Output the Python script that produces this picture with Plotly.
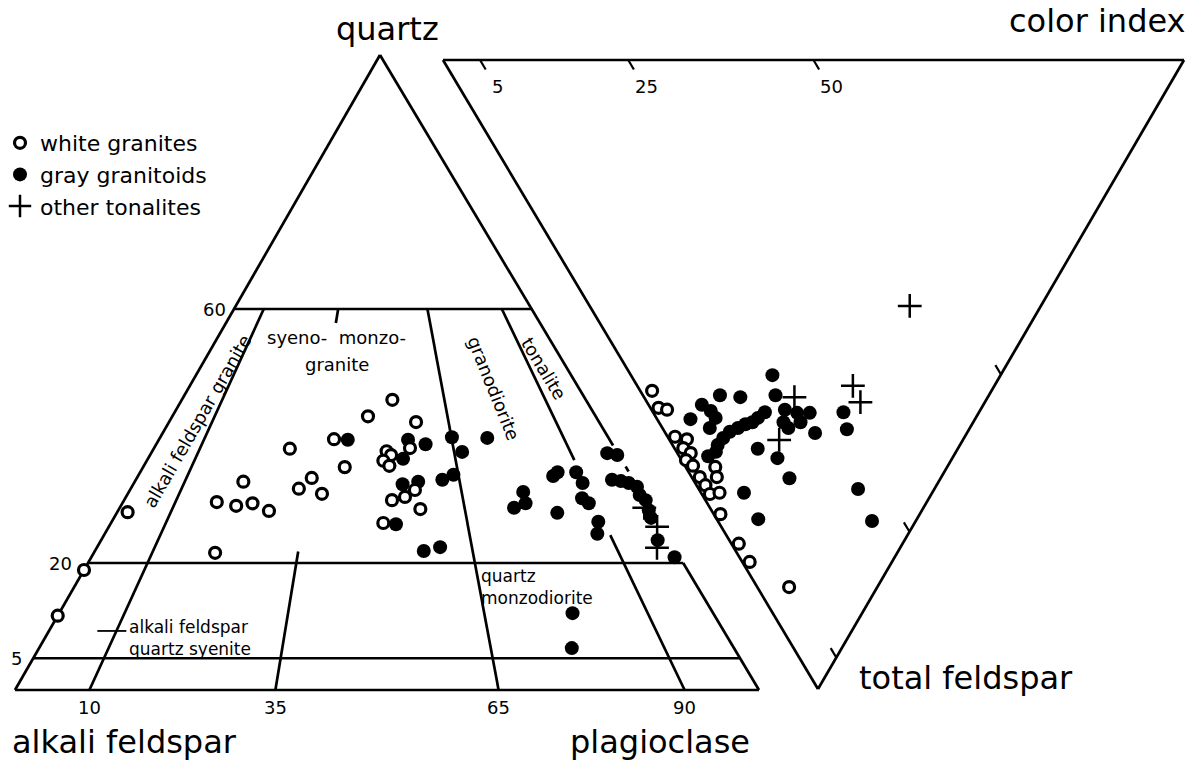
import numpy as np
import plotly.graph_objects as go

# ---------------------------------------------------------------
# Modal compositions, QAP diagram: quartz / alkali feldspar / plagioclase (%)
# ---------------------------------------------------------------
white_Q = [28.0, 18.9, 11.7, 29.6, 29.0, 29.4, 28.2, 32.8, 21.6, 38.0, 31.7, 33.4, 30.9, 39.5,
           35.1, 43.1, 45.7, 42.2, 37.6, 37.0, 36.1, 35.3, 38.1, 29.9, 30.4, 31.5, 28.5, 26.3]
white_A = [70.6, 81.1, 88.3, 57.8, 55.5, 53.1, 51.5, 52.6, 62.1, 43.7, 45.7, 43.1, 43.0, 37.0,
           37.8, 30.6, 26.0, 24.6, 30.9, 30.6, 32.1, 31.7, 27.5, 34.1, 32.1, 30.2, 31.0, 37.1]
white_P = [1.4, 0.0, 0.0, 12.6, 15.5, 17.5, 20.3, 14.6, 16.3, 18.3, 22.6, 23.5, 26.1, 23.5,
           27.1, 26.3, 28.3, 33.2, 31.5, 32.4, 31.8, 33.0, 34.4, 36.0, 37.5, 38.3, 40.5, 36.6]

gray_Q = [39.4, 39.4, 38.7, 36.4, 32.4, 32.8, 26.1, 39.8, 37.5, 39.7, 33.1, 33.9, 21.9, 22.5,
          31.2, 29.4, 28.7, 33.7, 34.3, 27.9, 34.3, 32.6, 30.2, 29.4, 26.5, 24.6, 37.3, 37.0,
          33.1, 32.9, 32.6, 32.0, 30.7, 29.9, 28.3, 27.1, 23.6, 20.9, 12.1, 6.6]
gray_A = [35.2, 27.1, 25.1, 29.3, 31.4, 29.1, 35.5, 21.0, 20.8, 16.3, 25.7, 23.8, 33.9, 31.4,
          15.8, 16.4, 18.3, 10.5, 9.6, 12.9, 7.1, 7.1, 8.4, 7.9, 8.1, 9.2, 1.4, 0.2,
          2.9, 1.8, 0.9, 0.1, 0.4, 0.0, 0.4, 0.7, 1.6, 0.7, 18.9, 21.8]
gray_P = [25.4, 33.5, 36.2, 34.3, 36.2, 38.1, 38.4, 39.2, 41.7, 44.0, 41.2, 42.3, 44.2, 46.1,
          53.0, 54.2, 53.0, 55.8, 56.1, 59.2, 58.6, 60.3, 61.4, 62.7, 65.4, 66.2, 61.3, 62.8,
          64.0, 65.3, 66.5, 67.9, 68.9, 70.1, 71.3, 72.2, 74.8, 78.4, 69.0, 71.6]

tonal_Q = [28.7, 25.7, 22.4]
tonal_A = [0.8, 0.6, 2.3]
tonal_P = [70.5, 73.7, 75.3]

# ---------------------------------------------------------------
# Quartz / total feldspar / color index (%)
# ---------------------------------------------------------------
white_ci_Q = [45.8, 43.6, 42.3, 39.1, 37.3, 37.1, 35.7, 35.8, 34.4, 32.6, 31.3, 30.3, 31.2,
              29.9, 28.7, 26.9, 22.1, 19.2, 11.9]
white_ci_F = [52.6, 55.3, 55.6, 59.9, 60.3, 61.7, 62.5, 63.6, 64.5, 66.3, 64.7, 66.3, 67.6,
              69.0, 68.8, 72.2, 76.9, 79.8, 83.8]
white_ci_M = [1.6, 1.1, 2.1, 1.0, 2.4, 1.2, 1.8, 0.6, 1.1, 1.1, 4.0, 3.4, 1.2,
              1.1, 2.5, 0.9, 1.0, 1.0, 4.3]

gray_ci_Q = [30.8, 36.3, 33.4, 28.8, 38.0, 36.3, 35.1, 38.4, 35.1, 28.9, 29.4, 29.8, 30.6,
             31.3, 32.1, 32.5, 32.7, 32.4, 33.1, 26.4, 25.6, 24.5, 24.5, 23.3, 22.8, 20.5,
             27.0, 23.6, 20.4, 25.4, 21.4, 18.3, 16.5, 10.3, 5.9]
gray_ci_F = [50.1, 53.3, 53.6, 53.3, 54.8, 55.8, 56.9, 57.1, 58.5, 56.0, 56.9, 57.6, 57.9,
             58.5, 59.1, 60.1, 61.2, 62.3, 63.0, 55.6, 57.6, 58.5, 56.1, 57.6, 56.1, 59.3,
             61.8, 63.3, 66.5, 68.8, 73.0, 56.0, 58.7, 68.2, 73.3]
gray_ci_M = [19.1, 10.4, 13.0, 17.9, 7.2, 7.9, 8.0, 4.5, 6.4, 15.1, 13.7, 12.6, 11.5,
             10.2, 8.8, 7.4, 6.1, 5.3, 3.9, 18.0, 16.8, 17.0, 19.4, 19.1, 21.1, 20.2,
             11.2, 13.1, 13.1, 5.8, 5.6, 25.7, 24.8, 21.5, 20.8]

tonal_ci_Q = [17.7, 19.1, 16.8, 26.1, 24.8]
tonal_ci_F = [39.1, 51.8, 54.4, 53.6, 60.4]
tonal_ci_M = [43.2, 29.1, 28.8, 20.3, 14.8]

# Field boundaries and scale marks
Q_LEVELS = [60, 20, 5]              # quartz, %
PLAG_RATIOS = [10, 35, 65, 90]      # 100 * P / (A + P)
CI_MARKS = [5, 25, 50]              # color index, %

# ---------------------------------------------------------------
# Geometry of the two triangles on the drawing canvas
# ---------------------------------------------------------------
QAP_Q, QAP_A, QAP_P = (380.0, 55.0), (15.0, 690.0), (759.0, 690.0)
QFM_Q, QFM_M, QFM_F = (443.0, 60.0), (1184.0, 60.0), (818.0, 689.0)

W, H = 1193, 763
FONT = "DejaVu Sans"


def bary(weights, verts):
    w = [np.asarray(v, dtype=float) for v in weights]
    s = w[0] + w[1] + w[2]
    x = sum(wi * v[0] for wi, v in zip(w, verts)) / s
    y = sum(wi * v[1] for wi, v in zip(w, verts)) / s
    return x, y


def qap(q, a, p):
    return bary((q, a, p), (QAP_Q, QAP_A, QAP_P))


def qfm(q, f, m):
    return bary((q, f, m), (QFM_Q, QFM_F, QFM_M))


def ratio_pt(q, r):
    rest = 100.0 - q
    return qap(q, rest * (100.0 - r) / 100.0, rest * r / 100.0)


shapes = []


def seg(p0, p1, width=2.7):
    shapes.append(dict(type="line", xref="x", yref="y", layer="below",
                       x0=float(p0[0]), y0=float(p0[1]),
                       x1=float(p1[0]), y1=float(p1[1]),
                       line=dict(color="black", width=width)))


# QAP outline (the right side is interrupted where the data crowd it)
seg(qap(0, 100, 0), qap(0, 0, 100))
seg(qap(0, 100, 0), qap(100, 0, 0))
seg(qap(100, 0, 0), qap(38.5, 0, 61.5))
seg(qap(35.2, 0, 64.8), qap(34.4, 0, 65.6))
seg(qap(20, 0, 80), qap(0, 0, 100))

# horizontal quartz levels
for q in Q_LEVELS:
    seg(qap(q, 100 - q, 0), qap(q, 0, 100 - q))

# plagioclase-ratio boundaries
seg(ratio_pt(60, PLAG_RATIOS[0]), ratio_pt(0, PLAG_RATIOS[0]))
seg(ratio_pt(60, PLAG_RATIOS[1]), ratio_pt(57.8, PLAG_RATIOS[1]))
seg(ratio_pt(21.8, PLAG_RATIOS[1]), ratio_pt(0, PLAG_RATIOS[1]))
seg(ratio_pt(60, PLAG_RATIOS[2]), ratio_pt(0, PLAG_RATIOS[2]))
seg(ratio_pt(60, PLAG_RATIOS[3]), ratio_pt(36.2, PLAG_RATIOS[3]))
seg(ratio_pt(24.4, PLAG_RATIOS[3]), ratio_pt(0, PLAG_RATIOS[3]))

# leader for the alkali feldspar quartz syenite field
seg(qap(9.3, 84.2, 6.5), qap(9.3, 80.3, 10.4), width=1.8)

# Q-F-M triangle outline and color-index marks
seg(qfm(100, 0, 0), qfm(0, 0, 100))
seg(qfm(0, 0, 100), qfm(0, 100, 0))
seg(qfm(0, 100, 0), qfm(100, 0, 0))
for m in CI_MARKS:
    seg(qfm(100 - m, 0, m), qfm(100 - m - 1.5, 1.5, m), width=2.2)
    seg(qfm(0, 100 - m, m), qfm(1.5, 100 - m - 1.5, m), width=2.2)


def both(qap_vals, qfm_vals):
    x1, y1 = qap(*qap_vals)
    x2, y2 = qfm(*qfm_vals)
    return np.concatenate([x1, x2]), np.concatenate([y1, y2])


fig = go.Figure()

gx, gy = both((gray_Q, gray_A, gray_P), (gray_ci_Q, gray_ci_F, gray_ci_M))
fig.add_trace(go.Scatter(
    x=gx, y=gy, mode="markers", name="gray granitoids", legendrank=2,
    marker=dict(symbol="circle", size=14, color="black", line=dict(width=0)),
))

tx, ty = both((tonal_Q, tonal_A, tonal_P), (tonal_ci_Q, tonal_ci_F, tonal_ci_M))
fig.add_trace(go.Scatter(
    x=tx, y=ty, mode="markers", name="other tonalites", legendrank=3,
    marker=dict(symbol="cross-thin", size=17, color="black",
                line=dict(width=2.5, color="black")),
))

wx, wy = both((white_Q, white_A, white_P), (white_ci_Q, white_ci_F, white_ci_M))
fig.add_trace(go.Scatter(
    x=wx, y=wy, mode="markers", name="white granites", legendrank=1,
    marker=dict(symbol="circle", size=11, color="white",
                line=dict(width=3.2, color="black")),
))

annotations = []


def label(text, x, y, size, xanchor="center", angle=0):
    annotations.append(dict(text=text, x=float(x), y=float(y), xref="x", yref="y",
                            showarrow=False, xanchor=xanchor, yanchor="middle",
                            textangle=angle, align="left",
                            font=dict(family=FONT, size=size, color="black")))


# corner names
label("quartz", 387, 29, 32)
label("alkali feldspar", 10, 742, 32, "left")
label("plagioclase", 568, 742, 32, "left")
label("color index", 1188, 21, 32, "right")
label("total feldspar", 857, 678, 32, "left")

# quartz levels along the left side
for q in Q_LEVELS:
    x, y = qap(q, 100 - q, 0)
    label(str(q), x - (6 if q == 60 else 14 if q == 20 else 9), y, 18, "right")

# plagioclase ratios below the base
for r in PLAG_RATIOS:
    x, y = ratio_pt(0, r)
    label(str(r), x, y + 17, 18)

# color-index values under the top edge
for m in CI_MARKS:
    x, y = qfm(100 - m - 4.2, 4.2, m)
    label(str(m), x + 2, y, 18)

# field names
label("syeno-&nbsp;&nbsp;monzo-", 265, 337, 18, "left")
label("granite", 337, 364, 18)
label("alkali feldspar granite", 197, 421, 18, angle=-60)
label("granodiorite", 494, 388, 18, angle=68)
label("tonalite", 544, 368, 18, angle=59)
label("quartz<br>monzodiorite", 479, 587, 17, "left")
label("alkali feldspar<br>quartz syenite", 127, 638, 17, "left")

fig.update_layout(
    width=W, height=H,
    margin=dict(l=0, r=0, t=0, b=0),
    paper_bgcolor="white", plot_bgcolor="white",
    xaxis=dict(range=[0, W], visible=False, fixedrange=True),
    yaxis=dict(range=[H, 0], visible=False, fixedrange=True),
    shapes=shapes,
    annotations=annotations,
    showlegend=True,
    legend=dict(x=0.0, y=1 - 122 / H, xanchor="left", yanchor="top",
                bgcolor="rgba(0,0,0,0)", borderwidth=0,
                font=dict(family=FONT, size=22, color="black"),
                itemsizing="trace", tracegroupgap=0, itemwidth=30),
)

fig.write_html("out.html")
